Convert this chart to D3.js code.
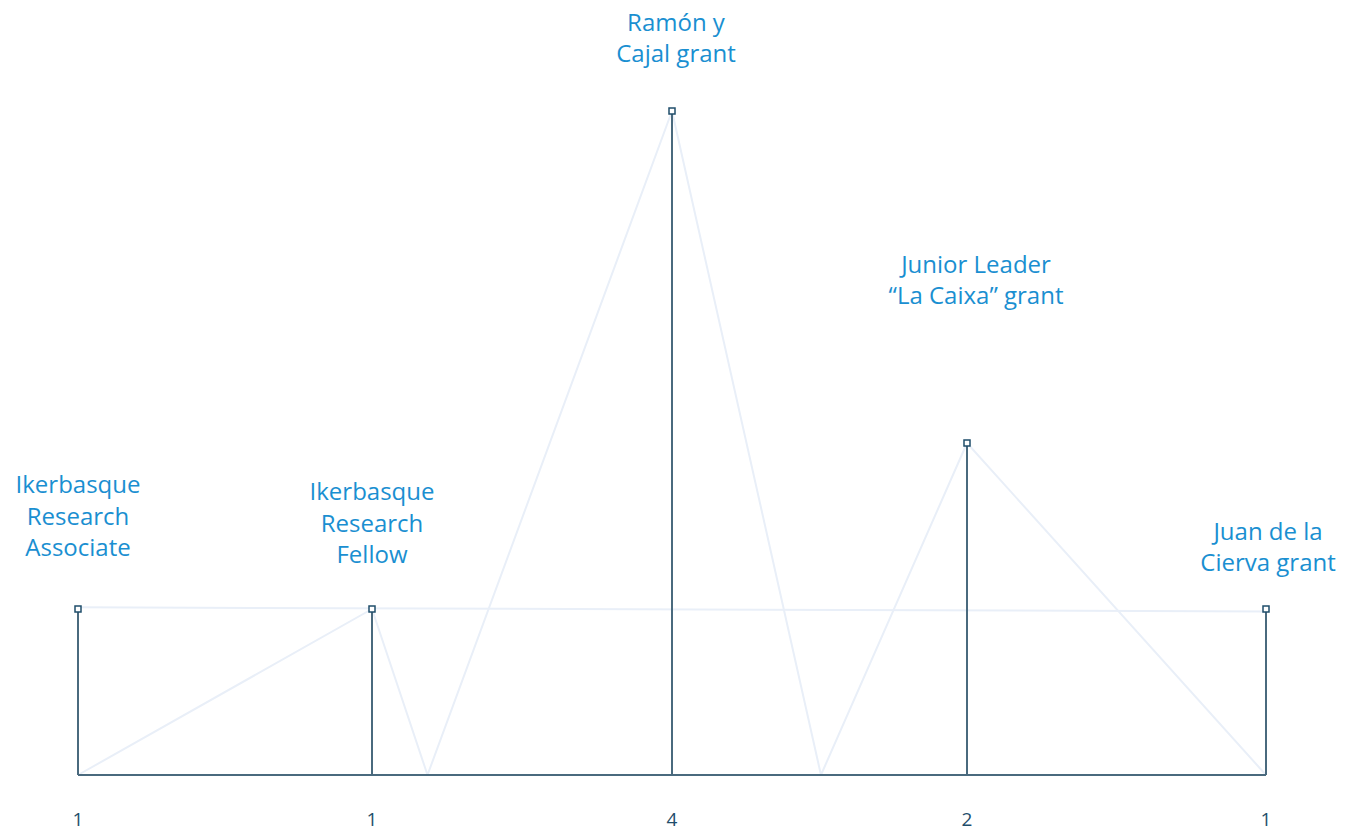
<!DOCTYPE html>
<html>
<head>
<meta charset="utf-8">
<script src="https://cdn.jsdelivr.net/npm/d3@7"></script>
<style>
  body { margin: 0; background: #fff; }
  svg { display: block; }
</style>
</head>
<body>
<div id="chart"></div>
<script>
// data
const grants = [
  ["Ikerbasque", "Research", "Associate"],
  ["Ikerbasque", "Research", "Fellow"],
  ["Ramón y", "Cajal grant"],
  ["Junior Leader", "“La Caixa” grant"],
  ["Juan de la", "Cierva grant"]
];
const counts = [1, 1, 4, 2, 1];

// background zigzag (x in category units, y in count units)
const zigX = [0, 1, 1.185, 2, 2.505, 3, 4];
const zigY = [0, 1, 0, 4, 0, 2, 0];
const flatX = [0, 4];
const flatY = [1.01, 0.985];

// layout
const width = 1348, height = 832;
const stemPos = [78, 372, 672, 967, 1266];
const labelLastLine = [548, 555, 54, 296, 563];   // center of the last label line
const labelShift = [0, 0, 4, 9, 2];
const lineGap = 31.5;

let svg = d3.select("#chart")
  .append("svg")
  .attr("width", width)
  .attr("height", height);

let x = d3.scaleLinear().domain([0, 1, 2, 3, 4]).range(stemPos);
let y = d3.scaleLinear().domain([0, 4]).range([775, 111]);

let light = d3.line()
  .x(function(d) { return x(d[0]); })
  .y(function(d) { return y(d[1]); });

svg.append("path")
  .datum(flatX.map(function(v, i) { return [v, flatY[i]]; }))
  .attr("fill", "none")
  .attr("stroke", "#e9eff8")
  .attr("stroke-width", 2)
  .attr("d", light);

svg.append("path")
  .datum(zigX.map(function(v, i) { return [v, zigY[i]]; }))
  .attr("fill", "none")
  .attr("stroke", "#e9eff8")
  .attr("stroke-width", 2)
  .attr("stroke-linejoin", "round")
  .attr("d", light);

// baseline
svg.append("line")
  .attr("x1", x(0)).attr("x2", x(counts.length - 1))
  .attr("y1", y(0)).attr("y2", y(0))
  .attr("stroke", "#4a6a7e")
  .attr("stroke-width", 2);

// stems
svg.selectAll(".stem")
  .data(counts)
  .enter()
  .append("line")
  .attr("class", "stem")
  .attr("x1", function(d, i) { return x(i); })
  .attr("x2", function(d, i) { return x(i); })
  .attr("y1", y(0))
  .attr("y2", function(d) { return y(d); })
  .attr("stroke", "#4a6a7e")
  .attr("stroke-width", 2);

// square markers
svg.selectAll(".marker")
  .data(counts)
  .enter()
  .append("rect")
  .attr("class", "marker")
  .attr("x", function(d, i) { return x(i) - 3; })
  .attr("y", function(d) { return y(d) - 3; })
  .attr("width", 6)
  .attr("height", 6)
  .attr("fill", "#fff")
  .attr("stroke", "#1f4e6b")
  .attr("stroke-width", 1.5);

// count labels
svg.selectAll(".count")
  .data(counts)
  .enter()
  .append("text")
  .attr("class", "count")
  .attr("x", function(d, i) { return x(i); })
  .attr("y", 819)
  .attr("dy", "0.35em")
  .style("text-anchor", "middle")
  .style("font-family", "'Open Sans', sans-serif")
  .style("font-size", "19px")
  .style("fill", "#1f4e6b")
  .text(function(d) { return d; });

// grant names
grants.forEach(function(lines, i) {
  let t = svg.append("text")
    .style("text-anchor", "middle")
    .style("font-family", "'Open Sans', sans-serif")
    .style("font-size", "24px")
    .style("fill", "#1a8fd1");
  lines.forEach(function(line, j) {
    t.append("tspan")
      .attr("x", x(i) + labelShift[i])
      .attr("y", labelLastLine[i] - (lines.length - 1 - j) * lineGap)
      .attr("dy", "0.35em")
      .text(line);
  });
});
</script>
</body>
</html>
